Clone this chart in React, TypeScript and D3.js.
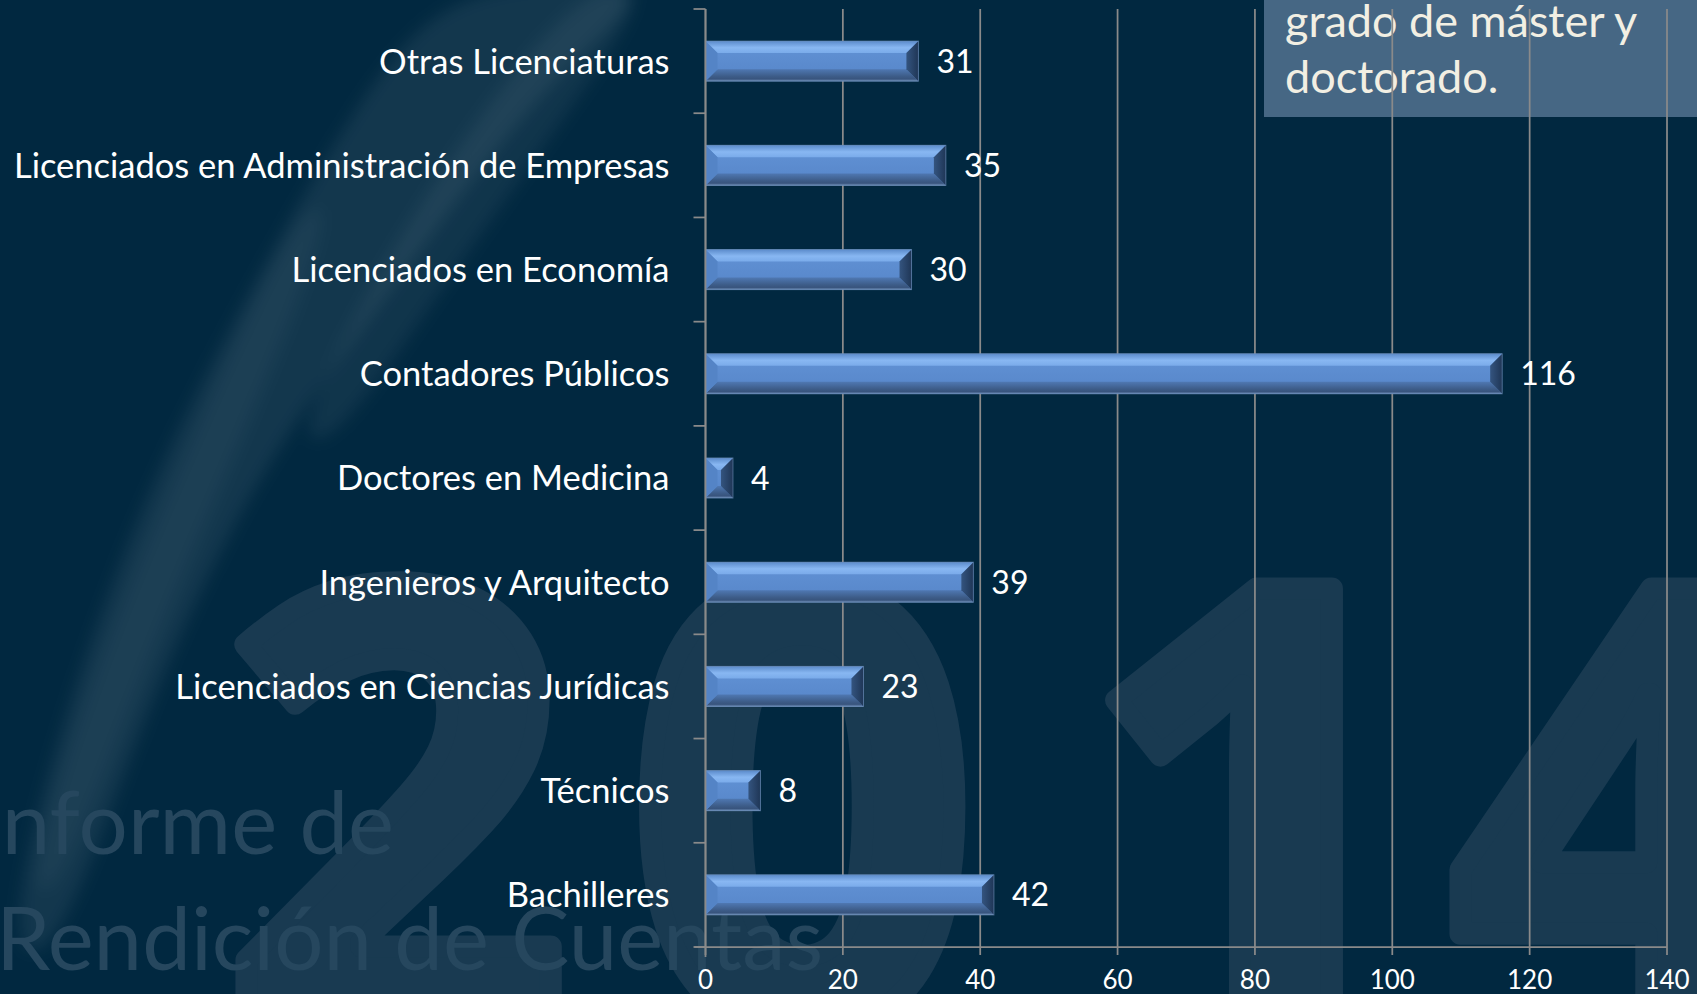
import React, { useEffect } from "react";
import * as d3 from "d3";

// data
const categories = [
  "Otras Licenciaturas",
  "Licenciados en Administración de Empresas",
  "Licenciados en Economía",
  "Contadores Públicos",
  "Doctores en Medicina",
  "Ingenieros y Arquitecto",
  "Licenciados en Ciencias Jurídicas",
  "Técnicos",
  "Bachilleres",
];
const values = [31, 35, 30, 116, 4, 39, 23, 8, 42];
const xTicks = [0, 20, 40, 60, 80, 100, 120, 140];
const noteLines = ["grado de máster y", "doctorado."];
const watermarkLines = ["Informe de", "Rendición de Cuentas"];
const watermarkYear = ["2", "0", "1", "4"];

const W = 1697;
const H = 994;
const margin = { top: 9, right: 30, bottom: 47, left: 705.5 };
const FONT = "Lato, 'Open Sans', sans-serif";

export default function App() {
  useEffect(() => {
    document.body.style.margin = "0";
    document.body.style.background = "#012840";
  }, []);

  const x = d3
    .scaleLinear()
    .domain([0, 140])
    .range([margin.left, W - margin.right]);

  const y = d3
    .scaleBand<string>()
    .domain(categories)
    .range([margin.top, H - margin.bottom])
    .paddingInner(0.615)
    .paddingOuter(0.3075);

  const step = y.step();
  const bandTop = (c: string) => (y(c) as number) - (step - y.bandwidth()) / 2;

  // feather streaks in the background (decoration only)
  const streak = d3.line<[number, number]>().curve(d3.curveBasisClosed);
  const streakA: [number, number][] = [
    [470, -20], [380, 60], [250, 290], [150, 480], [60, 720], [0, 960],
    [60, 960], [140, 720], [250, 480], [390, 290], [560, 60], [680, -20],
  ];
  const streakB: [number, number][] = [
    [590, -20], [480, 110], [360, 300], [290, 450],
    [340, 440], [440, 290], [570, 110], [660, -20],
  ];
  const streakC: [number, number][] = [
    [300, 200], [200, 420], [100, 650], [20, 900],
    [60, 900], [150, 650], [250, 420], [340, 200],
  ];

  const yearX = [222, 628, 1080, 1450];
  const plotBottom = H - margin.bottom;

  return (
    <svg
      width={W}
      height={H}
      style={{ display: "block", background: "#012840" }}
      fontFamily={FONT}
    >
      <defs>
        <linearGradient id="bevTop" x1="0" y1="0" x2="0" y2="1">
          <stop offset="0" stopColor="#5b8bcb" />
          <stop offset="0.55" stopColor="#88b7f2" />
          <stop offset="1" stopColor="#7aabea" />
        </linearGradient>
        <linearGradient id="bevBot" x1="0" y1="0" x2="0" y2="1">
          <stop offset="0" stopColor="#4f78b2" />
          <stop offset="0.6" stopColor="#3d5c88" />
          <stop offset="0.82" stopColor="#38547d" />
          <stop offset="1" stopColor="#7090ba" />
        </linearGradient>
        <linearGradient id="face" x1="0" y1="0" x2="0" y2="1">
          <stop offset="0" stopColor="#6293d6" />
          <stop offset="1" stopColor="#5685c8" />
        </linearGradient>
        <linearGradient id="rightCap" x1="0" y1="0" x2="1" y2="0">
          <stop offset="0" stopColor="#34547f" />
          <stop offset="1" stopColor="#1f3656" />
        </linearGradient>
        <filter id="soft" x="-20%" y="-20%" width="140%" height="140%">
          <feGaussianBlur stdDeviation="8" />
        </filter>
      </defs>

      <rect x={0} y={0} width={W} height={H} fill="#012840" />

      {/* background decoration */}
      <g filter="url(#soft)">
        <path d={streak(streakA) || ""} fill="#ffffff" opacity={0.07} />
        <path d={streak(streakB) || ""} fill="#ffffff" opacity={0.06} />
        <path d={streak(streakC) || ""} fill="#ffffff" opacity={0.04} />
      </g>

      {watermarkYear.map((d, i) => (
        <text
          key={d + i}
          x={yearX[i]}
          y={1024}
          fontSize={610}
          fontWeight={700}
          fill="#193a51"
          stroke="#193a51"
          strokeWidth={22}
          strokeLinejoin="round"
          fontFamily="'Open Sans', 'DejaVu Sans', sans-serif"
        >
          {d}
        </text>
      ))}

      {watermarkLines.map((t, i) => (
        <text
          key={t}
          x={i === 0 ? -22 : -4}
          y={854 + i * 116}
          fontSize={87}
          fontWeight={400}
          fill="#26475e"
        >
          {t}
        </text>
      ))}

      {/* note box */}
      <rect x={1264} y={0} width={W - 1264} height={117} fill="#466784" />
      {noteLines.map((t, i) => (
        <text key={t} x={1285} y={37 + i * 56} fontSize={45} fill="#f2efe3">
          {t}
        </text>
      ))}
      <text x={138} y={-7} fontSize={40} fill="#ffffff">
        y
      </text>

      {/* gridlines */}
      {xTicks.map((t) => (
        <line
          key={"g" + t}
          x1={x(t)}
          x2={x(t)}
          y1={margin.top}
          y2={plotBottom + 8}
          stroke="#8a8a8a"
          strokeWidth={1.75}
        />
      ))}
      {/* x axis line */}
      <line
        x1={margin.left - 11}
        x2={x(140)}
        y1={plotBottom}
        y2={plotBottom}
        stroke="#8a8a8a"
        strokeWidth={1.75}
      />
      {/* category ticks */}
      {d3.range(categories.length + 1).map((i) => (
        <line
          key={"t" + i}
          x1={margin.left - 12}
          x2={margin.left}
          y1={margin.top + i * step}
          y2={margin.top + i * step}
          stroke="#8a8a8a"
          strokeWidth={1.75}
        />
      ))}

      {/* bars */}
      {categories.map((c, i) => {
        const x0 = x(0);
        const x1 = x(values[i]);
        const y0 = y(c) as number;
        const y1 = y0 + y.bandwidth();
        const b = Math.min(12, (x1 - x0) / 2, (y1 - y0) / 2);
        const pts = (p: number[][]) => p.map((q) => q.join(",")).join(" ");
        return (
          <g key={c}>
            <rect x={x0} y={y0} width={x1 - x0} height={y1 - y0} fill="url(#face)" />
            <polygon
              points={pts([[x0, y0], [x1, y0], [x1 - b, y0 + b], [x0 + b, y0 + b]])}
              fill="url(#bevTop)"
            />
            <polygon
              points={pts([[x0, y1], [x1, y1], [x1 - b, y1 - b], [x0 + b, y1 - b]])}
              fill="url(#bevBot)"
            />
            <polygon
              points={pts([[x0, y0], [x0 + b, y0 + b], [x0 + b, y1 - b], [x0, y1]])}
              fill="#5484c6"
            />
            <polygon
              points={pts([[x1, y0], [x1 - b, y0 + b], [x1 - b, y1 - b], [x1, y1]])}
              fill="url(#rightCap)"
            />
            <rect
              x={x0}
              y={y0}
              width={x1 - x0}
              height={y1 - y0}
              fill="none"
              stroke="#6f8fb8"
              strokeWidth={1}
              opacity={0.6}
            />
            <text
              x={x1 + 18}
              y={y0 + y.bandwidth() / 2}
              dy="0.36em"
              fontSize={32}
              fill="#ffffff"
            >
              {values[i]}
            </text>
          </g>
        );
      })}

      {/* y axis line */}
      <line
        x1={margin.left}
        x2={margin.left}
        y1={margin.top}
        y2={plotBottom + 10}
        stroke="#8a8a8a"
        strokeWidth={1.75}
      />

      {/* category labels */}
      {categories.map((c) => (
        <text
          key={"l" + c}
          x={margin.left - 36}
          y={bandTop(c) + step / 2}
          dy="0.36em"
          textAnchor="end"
          fontSize={34.5}
          fill="#ffffff"
        >
          {c}
        </text>
      ))}

      {/* x tick labels */}
      {xTicks.map((t) => (
        <text
          key={"x" + t}
          x={x(t)}
          y={980}
          dy="0.36em"
          textAnchor="middle"
          fontSize={26}
          fill="#ffffff"
        >
          {t}
        </text>
      ))}
    </svg>
  );
}
